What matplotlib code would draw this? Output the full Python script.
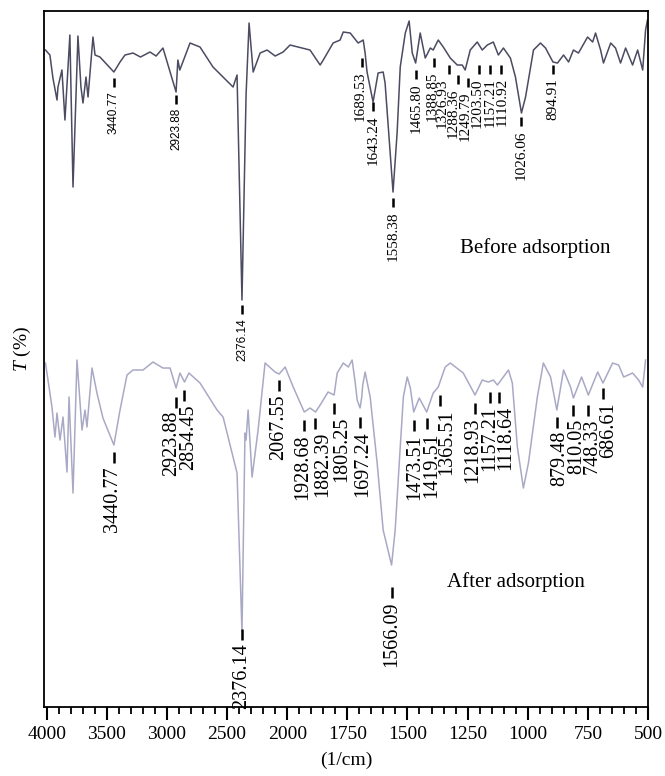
import numpy as np
import matplotlib
matplotlib.use('Agg')
import matplotlib.pyplot as plt
from matplotlib.ticker import FixedLocator

plt.rcParams['font.family'] = ['Liberation Serif', 'DejaVu Serif']
plt.rcParams['mathtext.fontset'] = 'custom'
plt.rcParams['mathtext.it'] = 'Liberation Serif:italic'
plt.rcParams['mathtext.rm'] = 'Liberation Serif'

# Спектр до адсорбции (волновое число, пропускание в усл. ед.)
before_wn = [4010, 3973, 3948, 3914, 3906, 3873, 3848, 3807, 3781, 3740,
             3715, 3698, 3673, 3656, 3615, 3598, 3557, 3441, 3390, 3349,
             3282, 3220, 3141, 3090, 3033, 2924, 2909, 2893, 2808, 2725,
             2617, 2450, 2417, 2376, 2342, 2317, 2283, 2225, 2167, 2100,
             2034, 1988, 1905, 1863, 1850, 1809, 1780, 1767, 1738, 1705,
             1684, 1676, 1668, 1643, 1622, 1601, 1593, 1560, 1543, 1530,
             1509, 1493, 1480, 1466, 1447, 1426, 1405, 1393, 1372, 1351,
             1322, 1293, 1272, 1260, 1239, 1210, 1189, 1168, 1143, 1122,
             1101, 1072, 1051, 1026, 1009, 976, 947, 926, 895, 876,
             851, 830, 810, 789, 751, 730, 718, 697, 685, 655,
             635, 614, 593, 564, 543, 522, 510, 502]
before_t = [657, 652, 629, 607, 620, 637, 587, 672, 520, 671,
            620, 604, 630, 610, 670, 652, 650, 635, 645, 652,
            654, 650, 655, 651, 659, 615, 647, 637, 664, 660,
            640, 620, 632, 407, 612, 684, 635, 654, 657, 651,
            655, 662, 657, 642, 647, 664, 667, 675, 674, 664,
            667, 654, 635, 605, 634, 635, 624, 515, 574, 640,
            674, 686, 654, 644, 674, 649, 659, 657, 667, 660,
            649, 642, 642, 637, 657, 665, 657, 662, 665, 652,
            659, 649, 630, 594, 610, 657, 664, 659, 645, 644,
            652, 645, 657, 654, 670, 665, 674, 657, 644, 664,
            659, 644, 659, 642, 657, 637, 677, 687]

# Спектр после адсорбции
after_wn = [4010, 3973, 3956, 3931, 3914, 3889, 3864, 3831, 3814, 3781,
            3748, 3706, 3681, 3665, 3623, 3582, 3532, 3441, 3390, 3332,
            3282, 3199, 3116, 3033, 2974, 2924, 2892, 2854, 2817, 2725,
            2583, 2533, 2417, 2376, 2351, 2342, 2325, 2292, 2242, 2184,
            2101, 2067, 2017, 1975, 1929, 1905, 1882, 1863, 1830, 1805,
            1792, 1767, 1746, 1730, 1717, 1709, 1697, 1690, 1686, 1676,
            1655, 1626, 1601, 1566, 1551, 1530, 1517, 1501, 1488, 1474,
            1451, 1420, 1393, 1372, 1343, 1322, 1268, 1219, 1189, 1164,
            1143, 1126, 1080, 1064, 1043, 1018, 997, 960, 935, 905,
            879, 851, 822, 810, 776, 748, 709, 687, 647, 622,
            601, 564, 539, 522, 510]
after_t = [344, 314, 300, 270, 294, 267, 290, 235, 310, 214,
           347, 277, 297, 280, 339, 314, 289, 262, 297, 332,
           337, 337, 345, 339, 339, 319, 334, 325, 334, 324,
           297, 290, 234, 75, 274, 267, 297, 230, 277, 344,
           335, 333, 340, 320, 295, 299, 295, 302, 315, 312,
           334, 344, 340, 347, 324, 307, 299, 310, 322, 335,
           310, 244, 177, 142, 177, 260, 310, 330, 319, 295,
           309, 295, 314, 320, 340, 344, 334, 312, 327, 325,
           327, 322, 337, 324, 260, 219, 244, 310, 344, 330,
           297, 337, 320, 309, 330, 312, 335, 324, 344, 342,
           330, 334, 327, 320, 347]

# Подписи пиков: текст, верх метки, сдвиг текста (px)
before_peaks = ['3440.77', '2923.88', '2376.14', '1689.53', '1643.24', '1558.38',
                '1465.80', '1388.85', '1326.93', '1288.36', '1249.79', '1203.50',
                '1157.21', '1110.92', '1026.06', '894.91']
before_tick_y = [629, 612, 402, 649, 605, 509,
                 637, 649, 642, 632, 629, 642,
                 642, 642, 590, 642]
before_dx = [0, 0, 0, -2, 0, 0,
             0, -2, -7, -5, -2.5, -1.5,
             0, 1, 0, 0]
before_sans = ['3440.77', '2923.88', '2376.14']

after_peaks = ['3440.77', '2923.88', '2854.45', '2376.14', '2067.55', '1928.68',
               '1882.39', '1805.25', '1697.24', '1566.09', '1473.51', '1419.51',
               '1365.51', '1218.93', '1157.21', '1118.64', '879.48', '810.05',
               '748.33', '686.61']
after_tick_y = [255, 310, 317, 78, 327, 287,
                289, 304, 290, 120, 287, 289,
                312, 304, 315, 315, 290, 302,
                302, 319]
after_dx = [-1, -4, 4, 0, 0, -2,
            7, 8, 3, 0, 1, 5,
            7, -2, 0, 7, 3, 3,
            4, 6]

major_ticks = [4000, 3500, 3000, 2500, 2000, 1750, 1500, 1250, 1000, 750, 500]


# Ось: 4000-2000 шаг 500, 2000-500 шаг 250, одинаковые интервалы
def fwd(x):
    x = np.asarray(x, dtype=float)
    return np.where(x >= 2000, 6 + (x - 2000) / 500, (x - 500) / 250)


def inv(u):
    u = np.asarray(u, dtype=float)
    return np.where(u >= 6, 2000 + (u - 6) * 500, 500 + u * 250)


fig = plt.figure(figsize=(6.65, 7.76), dpi=100)
ax = fig.add_axes([0.0662, 0.0889, 0.9082, 0.8969])
ax.set_xscale('function', functions=(fwd, inv))

ax.plot(before_wn, before_t, color='#4b4b62', lw=1.1)
ax.plot(after_wn, after_t, color='#a9a9c6', lw=1.1)

px2pt = 0.72
for lab, y, dx in zip(before_peaks, before_tick_y, before_dx):
    wn = float(lab)
    ax.plot([wn, wn], [y, y - 9], color='k', lw=1.8, solid_capstyle='butt')
    if lab in before_sans:
        ax.annotate(lab, (wn, y - 13), xytext=(dx * px2pt, 0), textcoords='offset points',
                    rotation=90, ha='center', va='top', fontsize=8.5,
                    family=['Liberation Sans', 'DejaVu Sans'])
    else:
        ax.annotate(lab, (wn, y - 13), xytext=(dx * px2pt, 0), textcoords='offset points',
                    rotation=90, ha='center', va='top', fontsize=11)

for lab, y, dx in zip(after_peaks, after_tick_y, after_dx):
    wn = float(lab)
    ax.plot([wn, wn], [y, y - 11], color='k', lw=1.8, solid_capstyle='butt')
    ax.annotate(lab, (wn, y - 14), xytext=(dx * px2pt, 0), textcoords='offset points',
                rotation=90, ha='center', va='top', fontsize=14.5)

ax.text(0.813, 0.659, 'Before adsorption', transform=ax.transAxes,
        ha='center', va='center', fontsize=15)
ax.text(0.781, 0.180, 'After adsorption', transform=ax.transAxes,
        ha='center', va='center', fontsize=15)

ax.set_xlim(4022, 500)
ax.set_ylim(0, 696)

ax.xaxis.set_major_locator(FixedLocator(major_ticks))
ax.set_xticklabels([str(t) for t in major_ticks])
minor = [x for x in range(3900, 2000, -100) if x % 500] + \
        [x for x in range(1950, 500, -50) if x % 250]
ax.xaxis.set_minor_locator(FixedLocator(minor))
ax.tick_params(axis='x', which='major', length=9, width=1.5, labelsize=14, pad=5)
ax.tick_params(axis='x', which='minor', length=5, width=1.3)
ax.set_yticks([])
for s in ax.spines.values():
    s.set_linewidth(1.3)

ax.set_xlabel('(1/cm)', fontsize=14, labelpad=6)
ax.set_ylabel('$T$ (%)', fontsize=14, labelpad=10)
ax.yaxis.set_label_coords(-0.019, 0.515)

plt.savefig('out.png', dpi=100)
